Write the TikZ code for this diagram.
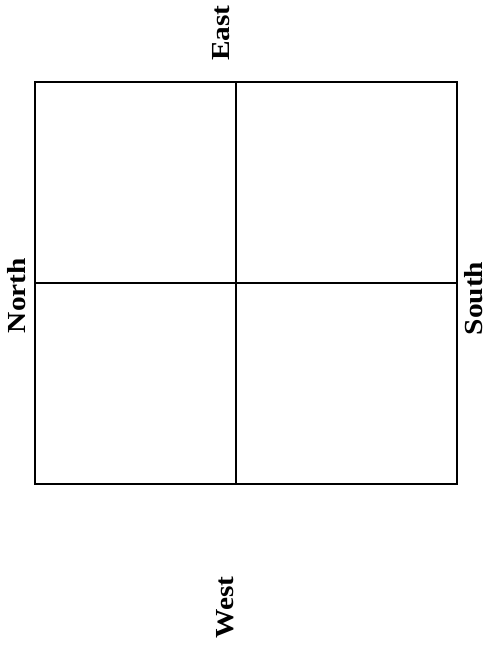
\documentclass[tikz,border=0pt]{standalone}
\usepackage{fontspec}
\setmainfont{Liberation Serif}
\begin{document}
\begin{tikzpicture}[x=1pt,y=-1pt,
  lab/.style={rotate=90,anchor=base,inner sep=0pt,font=\bfseries\fontsize{26}{26}\selectfont},
  frame/.style={line width=1.4pt,black}]
\useasboundingbox (0,0) rectangle (489,653);
\coordinate (tl) at (35,82);
\coordinate (br) at (457,484);
\coordinate (vt) at (236,82);
\coordinate (vb) at (236,484);
\coordinate (hl) at (35,283);
\coordinate (hr) at (457,283);
\draw[frame] (tl) rectangle (br);
\draw[frame] (vt) -- (vb);
\draw[frame] (hl) -- (hr);
\node[lab] (east) at (229,33) {\scalebox{1.13}[1]{East}};
\node[lab] (north) at (25,295.5) {\scalebox{1.13}[1]{North}};
\node[lab] (south) at (482,298.5) {\scalebox{1.13}[1]{South}};
\node[lab] (west) at (233,607.5) {\scalebox{1.13}[1]{West}};
\end{tikzpicture}
\end{document}
